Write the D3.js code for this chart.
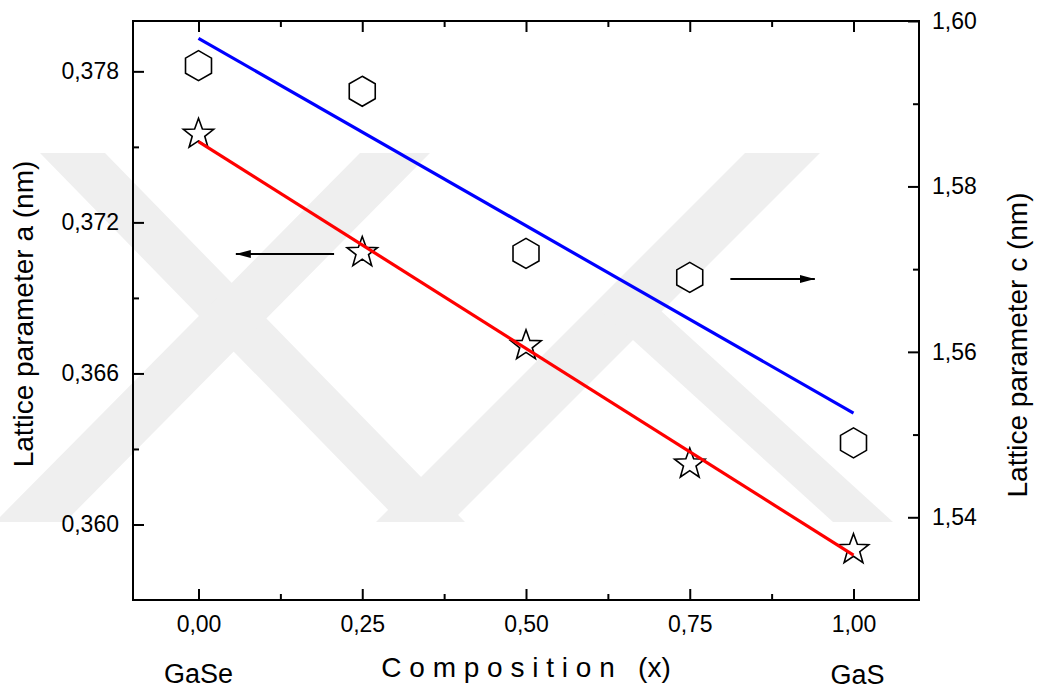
<!DOCTYPE html>
<html>
<head>
<meta charset="utf-8">
<script src="https://cdn.jsdelivr.net/npm/d3@7"></script>
<style>
body{margin:0;background:#fff;}
text{font-family:"Liberation Sans",Arial,sans-serif;fill:#000;}
</style>
</head>
<body>
<script>
(function(){
//composition x (GaSe -> GaS)
var composition = [0, 0.25, 0.5, 0.75, 1];
//lattice parameter a (nm), stars, left axis
var latticeA = [0.3755, 0.3708, 0.3671, 0.3624, 0.3590];
//lattice parameter c (nm), hexagons, right axis
var latticeC = [1.5946, 1.5915, 1.5719, 1.5690, 1.5490];
//linear fit end points
var fitX = [0, 1];
var fitA = [0.37521, 0.35878];
var fitC = [1.5979, 1.5526];
//ticks
var xTicks = [0, 0.25, 0.5, 0.75, 1];
var xMinor = [0.125, 0.375, 0.625, 0.875];
var aTicks = [0.360, 0.366, 0.372, 0.378];
var aMinor = [0.363, 0.369, 0.375];
var cTicks = [1.54, 1.56, 1.58, 1.60];
var cMinor = [1.55, 1.57, 1.59];
//arrows: x from, x to, y
var arrowA = [0.207, 0.057, 0.37074];
var arrowC = [0.812, 0.941, 1.5688];

window.onload = drawChart();

function drawChart(){
    var width = 1040,
        height = 691;
    var left = 133, right = 919, top = 21, bottom = 600;

    var svg = d3.select("body")
        .append("svg")
        .attr("width", width)
        .attr("height", height);

    drawWatermark(svg);

    var x = d3.scaleLinear().domain([-0.1, 1.1]).range([left, right]);
    var yA = d3.scaleLinear().domain([0.357, 0.380]).range([bottom, top]);
    var yC = d3.scaleLinear().domain([1.53, 1.60]).range([bottom, top]);

    //comma as decimal mark
    var locale = d3.formatLocale({decimal: ",", thousands: ".", grouping: [3], currency: ["", ""]});
    var f2 = locale.format(".2f"),
        f3 = locale.format(".3f");

    //bottom axis
    svg.append("g")
        .attr("class", "axis")
        .attr("transform", "translate(0," + bottom + ")")
        .call(d3.axisBottom(x).tickValues(xTicks).tickFormat(f2).tickSize(-11).tickSizeOuter(0).tickPadding(16));
    svg.append("g")
        .attr("class", "axis minor")
        .attr("transform", "translate(0," + bottom + ")")
        .call(d3.axisBottom(x).tickValues(xMinor).tickFormat("").tickSize(-6).tickSizeOuter(0));
    //top axis (ticks only)
    svg.append("g")
        .attr("class", "axis")
        .attr("transform", "translate(0," + top + ")")
        .call(d3.axisTop(x).tickValues(xTicks).tickFormat("").tickSize(-11).tickSizeOuter(0));
    svg.append("g")
        .attr("class", "axis")
        .attr("transform", "translate(0," + top + ")")
        .call(d3.axisTop(x).tickValues(xMinor).tickFormat("").tickSize(-6).tickSizeOuter(0));
    //left axis
    svg.append("g")
        .attr("class", "axis")
        .attr("transform", "translate(" + left + ",0)")
        .call(d3.axisLeft(yA).tickValues(aTicks).tickFormat(f3).tickSize(-11).tickSizeOuter(0).tickPadding(14));
    svg.append("g")
        .attr("class", "axis")
        .attr("transform", "translate(" + left + ",0)")
        .call(d3.axisLeft(yA).tickValues(aMinor).tickFormat("").tickSize(-6).tickSizeOuter(0));
    //right axis
    svg.append("g")
        .attr("class", "axis")
        .attr("transform", "translate(" + right + ",0)")
        .call(d3.axisRight(yC).tickValues(cTicks).tickFormat(f2).tickSize(-11).tickSizeOuter(0).tickPadding(13));
    svg.append("g")
        .attr("class", "axis")
        .attr("transform", "translate(" + right + ",0)")
        .call(d3.axisRight(yC).tickValues(cMinor).tickFormat("").tickSize(-6).tickSizeOuter(0));

    svg.selectAll(".axis text")
        .style("font-size", "23px")
        .style("font-family", "'Liberation Sans', Arial, sans-serif");
    svg.selectAll(".axis line")
        .attr("stroke", "#000")
        .attr("stroke-width", 2);
    svg.selectAll(".axis path").remove();

    //frame
    svg.append("rect")
        .attr("x", left)
        .attr("y", top)
        .attr("width", right - left)
        .attr("height", bottom - top)
        .attr("fill", "none")
        .attr("stroke", "#000")
        .attr("stroke-width", 2);

    //markers: hexagons for c
    var hex = d3.range(6).map(function(i){
        var ang = Math.PI / 3 * i;
        return [15 * Math.sin(ang), -15 * Math.cos(ang)];
    });
    svg.selectAll(".hex")
        .data(composition)
        .enter()
        .append("path")
        .attr("class", "hex")
        .attr("d", "M" + hex.join("L") + "Z")
        .attr("transform", function(d, i){
            return "translate(" + x(d) + "," + yC(latticeC[i]) + ")";
        })
        .attr("fill", "#fff")
        .attr("stroke", "#000")
        .attr("stroke-width", 1.6);

    //markers: stars for a
    var star = d3.range(10).map(function(i){
        var r = i % 2 === 0 ? 16 : 6.6;
        var ang = Math.PI / 5 * i;
        return [r * Math.sin(ang), -r * Math.cos(ang)];
    });
    svg.selectAll(".star")
        .data(composition)
        .enter()
        .append("path")
        .attr("class", "star")
        .attr("d", "M" + star.join("L") + "Z")
        .attr("transform", function(d, i){
            return "translate(" + x(d) + "," + yA(latticeA[i]) + ")";
        })
        .attr("fill", "#fff")
        .attr("stroke", "#000")
        .attr("stroke-width", 1.6);

    //fit lines
    var lineA = d3.line()
        .x(function(d){ return x(d); })
        .y(function(d, i){ return yA(fitA[i]); });
    var lineC = d3.line()
        .x(function(d){ return x(d); })
        .y(function(d, i){ return yC(fitC[i]); });
    svg.append("path")
        .datum(fitX)
        .attr("d", lineC)
        .attr("fill", "none")
        .attr("stroke", "#0000ff")
        .attr("stroke-width", 3.2);
    svg.append("path")
        .datum(fitX)
        .attr("d", lineA)
        .attr("fill", "none")
        .attr("stroke", "#ff0000")
        .attr("stroke-width", 3.2);

    //arrows
    svg.append("defs")
        .append("marker")
        .attr("id", "head")
        .attr("markerUnits", "userSpaceOnUse")
        .attr("markerWidth", 18)
        .attr("markerHeight", 10)
        .attr("refX", 15)
        .attr("refY", 5)
        .attr("orient", "auto")
        .append("path")
        .attr("d", "M0,1L15,5L0,9Z")
        .attr("fill", "#000");
    svg.append("line")
        .attr("x1", x(arrowA[0])).attr("x2", x(arrowA[1]))
        .attr("y1", yA(arrowA[2])).attr("y2", yA(arrowA[2]))
        .attr("stroke", "#000").attr("stroke-width", 2)
        .attr("marker-end", "url(#head)");
    svg.append("line")
        .attr("x1", x(arrowC[0])).attr("x2", x(arrowC[1]))
        .attr("y1", yC(arrowC[2])).attr("y2", yC(arrowC[2]))
        .attr("stroke", "#000").attr("stroke-width", 2)
        .attr("marker-end", "url(#head)");

    //axis titles
    svg.append("text")
        .attr("transform", "translate(33,314) rotate(-90)")
        .attr("text-anchor", "middle")
        .style("font-size", "28px")
        .text("Lattice parameter a (nm)");
    svg.append("text")
        .attr("transform", "translate(1027,345) rotate(-90)")
        .attr("text-anchor", "middle")
        .style("font-size", "28px")
        .text("Lattice parameter c (nm)");
    svg.append("text")
        .attr("x", x(0.5))
        .attr("y", 677)
        .attr("text-anchor", "middle")
        .style("font-size", "28px")
        .style("white-space", "pre")
        .text("C o m p o s i t i o n   (x)");
    svg.append("text")
        .attr("x", x(0))
        .attr("y", 683)
        .attr("text-anchor", "middle")
        .style("font-size", "27px")
        .text("GaSe");
    svg.append("text")
        .attr("x", x(1) + 4)
        .attr("y", 684)
        .attr("text-anchor", "middle")
        .style("font-size", "27px")
        .text("GaS");
};

//faint background stamp behind the plot
function drawWatermark(svg){
    var bands = [
        [[40,153],[105,153],[465,522],[400,522]],
        [[360,153],[430,153],[65,522],[-5,522]],
        [[745,153],[820,153],[451,522],[376,522]],
        [[600,310],[660,310],[893,522],[833,522]]
    ];
    svg.selectAll(".wm")
        .data(bands)
        .enter()
        .append("path")
        .attr("class", "wm")
        .attr("d", function(d){ return "M" + d.join("L") + "Z"; })
        .attr("fill", "#efefef");
};
})();
</script>
</body>
</html>
